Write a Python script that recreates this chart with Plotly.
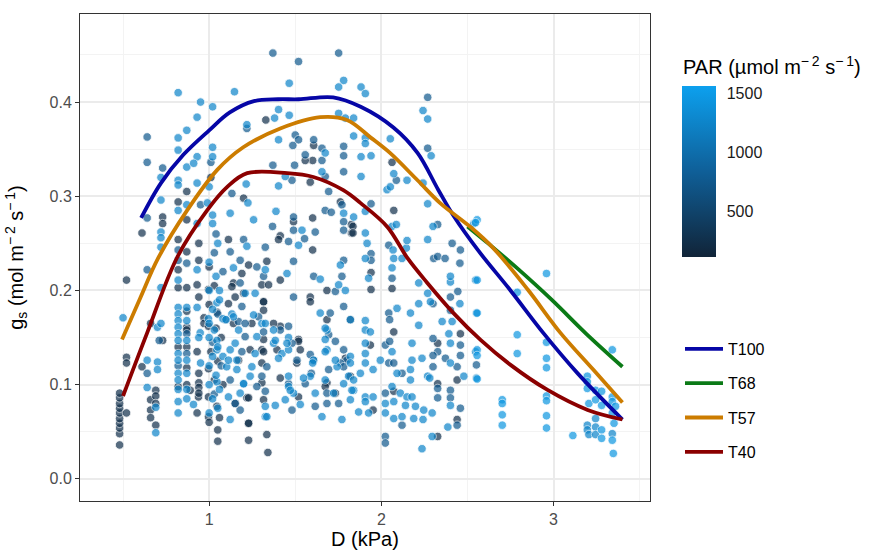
import plotly.graph_objects as go

# ---------------- data ----------------
# scatter points (D in kPa, gs in mol m-2 s-1), grouped by approximate PAR level
low_par_pts = [  # PAR ~ 250
    (0.48,0.036),(0.48,0.048),(0.48,0.054),(0.48,0.059),(0.48,0.064),(0.48,0.070),(0.48,0.075),(0.48,0.080),(0.48,0.086),(0.48,0.091),
    (0.52,0.211),(0.52,0.129),(0.52,0.123),(0.52,0.070),
    (0.61,0.261),(0.61,0.119),(0.66,0.084),(0.66,0.073),(0.66,0.065),(0.66,0.165),(0.69,0.094),(0.69,0.088),(0.69,0.080),(0.69,0.057),
    (0.73,0.147),(0.73,0.278),(0.73,0.271),
    (0.82,0.294),(0.82,0.254),(0.82,0.222),(0.82,0.203),(0.82,0.140),(0.82,0.098),(0.87,0.305),(0.87,0.275),(0.87,0.241),(0.87,0.203),
    (0.87,0.161),(0.87,0.140),(0.87,0.118),(0.87,0.100),(0.87,0.178),(0.87,0.158),(0.89,0.094),(0.938,0.087),
    (0.94,0.250),(0.94,0.232),(0.93,0.206),(0.94,0.193),(0.97,0.171),(0.97,0.165),(0.93,0.135),(0.94,0.112),(0.94,0.102),(0.94,0.097),
    (0.94,0.091),(0.93,0.070),(0.996,0.162),(0.996,0.201),(0.996,0.117),(0.996,0.066),(1.045,0.077),(1.045,0.177),(0.996,0.087),
    (1.01,0.320),(1.03,0.205),(1.00,0.185),(1.04,0.160),(1.01,0.135),(1.03,0.105),(1.00,0.060),(1.05,0.052),(1.05,0.040),(1.06,0.065),
    (1.07,0.150),(1.05,0.125),(1.08,0.100),(1.00,0.225),(1.141,0.165),(1.141,0.208),(1.200,0.197),(1.219,0.086),(1.229,0.059),
    (1.151,0.080),(1.316,0.188),(1.316,0.148),(1.306,0.137),(1.306,0.102),(1.394,0.137),(1.519,0.087),(1.519,0.148),(1.529,0.137),
    (1.509,0.123),(1.684,0.169),(1.684,0.102),
    (1.329,0.381),(1.607,0.354),(1.601,0.338),(1.558,0.338),(1.587,0.315),(1.200,0.298),(1.762,0.294),(1.413,0.258),(1.490,0.273),
    (1.601,0.277),(1.826,0.270),(1.826,0.261),(1.112,0.254),(1.229,0.227),(1.190,0.218),(1.132,0.204),(1.335,0.231),(1.403,0.254),
    (1.413,0.211),(1.601,0.243),(1.587,0.193),(1.587,0.188),(1.684,0.200),(1.306,0.206),(1.345,0.206),(1.316,0.188),(1.316,0.179),
    (1.248,0.165),(1.112,0.186),(1.229,0.086),(1.229,0.059),(1.229,0.041),(1.341,0.028),(1.335,0.047),(1.316,0.084),(1.413,0.107),
    (1.316,0.135),(1.306,0.123),(1.413,0.162),(1.374,0.165),(1.519,0.146),(1.674,0.098),(1.733,0.091),(1.791,0.128),(1.820,0.109),
    (1.151,0.193),(1.238,0.137),(1.171,0.126),
    (1.835,0.268),(1.835,0.261),(1.940,0.219),(1.940,0.201),(1.820,0.169),(1.936,0.142),(1.952,0.073),(2.062,0.336),(2.072,0.285),
    (2.062,0.202),(2.072,0.156),(2.072,0.093),(2.327,0.144),(2.327,0.101),(2.327,0.045),(2.459,0.154),(2.440,0.105),(2.440,0.063),
]
mid_par_pts = [  # PAR ~ 750
    (0.64,0.363),(0.64,0.336),(0.64,0.277),(0.64,0.222),(0.64,0.112),(0.73,0.330),(0.71,0.147),
    (0.82,0.243),(0.82,0.232),(0.87,0.229),(0.87,0.154),(0.87,0.133),(0.82,0.120),(0.95,0.291),
    (1.01,0.336),(1.04,0.260),(1.03,0.240),(1.05,0.175),(1.02,0.145),(1.07,0.120),(1.03,0.090),(1.08,0.220),
    (1.170,0.167),(1.413,0.158),(1.461,0.162),(1.606,0.126),(1.684,0.080),(1.781,0.183),(1.781,0.137),(1.800,0.126),
    (1.370,0.452),(1.519,0.443),(1.752,0.452),(1.219,0.372),(1.500,0.365),(1.519,0.360),(1.486,0.354),(1.607,0.360),(1.655,0.351),
    (1.781,0.353),(1.781,0.343),(1.558,0.344),(1.655,0.338),(1.370,0.333),(1.496,0.333),(1.781,0.326),(1.481,0.317),(1.674,0.321),
    (1.694,0.305),(1.132,0.303),(1.771,0.291),(1.368,0.268),(1.490,0.278),(1.490,0.264),(1.554,0.255),(1.616,0.262),(1.674,0.285),
    (1.709,0.283),(1.781,0.273),(1.781,0.264),(1.200,0.254),(1.122,0.241),(1.180,0.232),(1.180,0.208),(1.326,0.246),(1.316,0.215),
    (1.461,0.252),(1.490,0.231),(1.490,0.193),(1.607,0.215),(1.733,0.199),(1.781,0.232),(1.771,0.215),(1.209,0.165),(1.093,0.169),
    (1.190,0.135),(1.122,0.105),(1.180,0.073),(1.326,0.093),(1.306,0.109),(1.335,0.119),(1.316,0.156),(1.481,0.144),(1.510,0.126),
    (1.461,0.101),(1.558,0.101),(1.481,0.073),(1.587,0.132),(1.593,0.112),(1.616,0.077),(1.684,0.091),(1.694,0.116),(1.703,0.176),
    (1.694,0.153),(1.733,0.146),(1.762,0.123),(1.752,0.080),(1.781,0.119),(1.190,0.183),(1.209,0.151),(1.151,0.080),(1.277,0.098),
    (1.287,0.172),(1.277,0.225),
    (1.940,0.292),(1.940,0.239),(1.940,0.232),(2.087,0.317),(2.043,0.248),(2.062,0.213),(2.043,0.176),(2.048,0.169),(2.023,0.142),
    (2.048,0.146),(2.043,0.123),(2.072,0.123),(2.120,0.112),(2.023,0.091),(2.120,0.057),(2.023,0.045),(2.023,0.038),(2.269,0.405),
    (2.269,0.351),(2.327,0.270),(2.304,0.234),(2.327,0.236),(2.370,0.234),(2.300,0.186),(2.300,0.149),(2.327,0.135),(2.300,0.131),
    (2.300,0.119),(2.327,0.096),(2.327,0.086),(2.401,0.193),(2.444,0.199),(2.401,0.179),(2.459,0.142),(2.459,0.131),(2.372,0.128),
    (2.440,0.119),(2.401,0.094),(2.401,0.086),(2.459,0.075),(2.440,0.057),(2.411,0.250),(2.459,0.243),(2.456,0.229),(2.552,0.121),
]
high_par_pts = [  # PAR ~ 1250
    (0.50,0.171),
    (0.64,0.126),(0.64,0.097),(0.70,0.161),(0.70,0.124),(0.70,0.116),(0.69,0.049),(0.69,0.076),(0.72,0.320),(0.72,0.296),(0.72,0.262),
    (0.72,0.256),(0.72,0.246),(0.72,0.203),(0.72,0.165),
    (0.82,0.410),(0.82,0.362),(0.82,0.349),(0.82,0.317),(0.82,0.312),(0.82,0.285),(0.82,0.211),(0.82,0.182),(0.82,0.175),(0.82,0.168),
    (0.82,0.161),(0.82,0.154),(0.82,0.147),(0.82,0.133),(0.82,0.126),(0.82,0.112),(0.82,0.105),(0.82,0.095),(0.82,0.082),(0.82,0.070),
    (0.87,0.370),(0.87,0.331),(0.87,0.291),(0.87,0.182),(0.87,0.168),(0.87,0.147),(0.87,0.126),(0.87,0.112),(0.87,0.095),(0.87,0.085),
    (0.909,0.079),(0.948,0.155),(0.996,0.170),(1.045,0.187),(1.045,0.147),(1.045,0.137),(1.045,0.103),(1.122,0.137),(1.132,0.175),
    (1.161,0.126),(1.200,0.101),(1.180,0.091),(1.102,0.119),(1.258,0.174),(1.306,0.165),(1.326,0.066),(1.326,0.077),(1.374,0.158),
    (1.374,0.144),(1.423,0.133),(1.461,0.150),(1.461,0.137),(1.461,0.109),(1.461,0.098),(1.490,0.091),(1.587,0.109),(1.606,0.126),
    (1.645,0.176),(1.684,0.158),(1.684,0.137),(1.723,0.091),(1.743,0.119),(1.820,0.169),(1.839,0.094),(1.810,0.109),
    (0.95,0.400),(0.93,0.384),(0.93,0.342),(0.91,0.335),(0.93,0.314),(0.93,0.271),(0.93,0.222),(0.93,0.182),(0.94,0.150),(0.95,0.123),
    (1.02,0.395),(1.02,0.352),(1.02,0.342),(1.00,0.310),(0.99,0.293),(1.02,0.280),(1.02,0.271),(1.05,0.250),(1.00,0.230),(1.04,0.215),
    (1.00,0.200),(1.06,0.190),(1.02,0.180),(1.00,0.165),(1.03,0.158),(1.00,0.150),(1.05,0.140),(1.02,0.130),(1.00,0.120),(1.04,0.110),
    (1.00,0.100),(1.06,0.095),(1.02,0.085),(1.05,0.075),(1.00,0.070),(1.06,0.200),(1.08,0.170),(1.08,0.130),
    (1.147,0.411),(1.465,0.420),(1.781,0.423),(1.752,0.416),(1.752,0.388),(1.403,0.392),(1.465,0.386),(1.380,0.383),(1.219,0.376),
    (1.791,0.383),(1.403,0.360),(1.674,0.346),(1.442,0.321),(1.655,0.326),(1.215,0.313),(1.403,0.311),(1.225,0.293),(1.122,0.282),
    (1.258,0.275),(1.388,0.284),(1.539,0.264),(1.781,0.282),(1.219,0.247),(1.141,0.224),(1.209,0.197),(1.326,0.222),(1.519,0.248),
    (1.452,0.218),(1.645,0.212),(1.752,0.206),(1.762,0.227),(1.791,0.200),(1.171,0.158),(1.151,0.144),(1.112,0.126),(1.161,0.116),
    (1.200,0.101),(1.122,0.063),(1.335,0.066),(1.384,0.078),(1.403,0.128),(1.384,0.147),(1.326,0.165),(1.452,0.144),(1.548,0.107),
    (1.471,0.094),(1.529,0.079),(1.442,0.084),(1.601,0.123),(1.616,0.091),(1.655,0.066),(1.674,0.105),(1.674,0.135),(1.674,0.148),
    (1.674,0.160),(1.733,0.126),(1.781,0.101),(1.771,0.063),(1.829,0.094),(1.141,0.172),(1.098,0.169),(1.248,0.119),(1.112,0.087),
    (1.238,0.109),(1.267,0.133),(1.277,0.151),(1.267,0.197),
    (1.882,0.416),(1.907,0.409),(1.839,0.383),(1.839,0.364),(1.907,0.362),(1.907,0.356),(1.882,0.342),(1.940,0.343),(1.882,0.321),
    (1.907,0.284),(1.839,0.278),(1.907,0.261),(1.917,0.250),(1.907,0.234),(1.926,0.213),(1.907,0.168),(1.907,0.158),(1.936,0.156),
    (1.907,0.144),(1.907,0.133),(1.820,0.130),(1.820,0.123),(1.839,0.105),(1.907,0.123),(1.878,0.112),(1.952,0.116),(1.907,0.087),
    (1.907,0.082),(1.952,0.087),(1.926,0.070),(1.868,0.071),(1.820,0.084),(2.052,0.361),(2.072,0.324),(2.033,0.307),(2.052,0.310),
    (2.149,0.317),(2.062,0.268),(2.087,0.270),(2.068,0.243),(2.072,0.234),(2.062,0.224),(2.120,0.234),(2.145,0.245),(2.149,0.253),
    (2.091,0.181),(2.169,0.176),(2.062,0.135),(1.994,0.126),(2.091,0.112),(2.169,0.116),(2.178,0.144),(2.178,0.126),(2.169,0.105),
    (2.062,0.098),(2.110,0.091),(2.149,0.087),(2.178,0.087),(2.023,0.080),(2.072,0.082),(2.140,0.078),(2.198,0.077),(2.072,0.064),
    (2.023,0.070),(2.120,0.066),(2.188,0.064),(2.236,0.032),(2.242,0.391),(2.269,0.382),(2.289,0.343),(2.242,0.314),(2.269,0.292),
    (2.300,0.268),(2.269,0.254),(2.217,0.208),(2.269,0.197),(2.285,0.188),(2.217,0.186),(2.217,0.163),(2.236,0.128),(2.269,0.109),
    (2.281,0.107),(2.295,0.070),(2.295,0.045),(2.242,0.063),(2.246,0.073),(2.401,0.209),(2.456,0.186),(2.353,0.167),(2.411,0.167),
    (2.392,0.154),(2.401,0.144),(2.401,0.123),(2.401,0.078),(2.386,0.055),(2.479,0.109),(2.401,0.215),(2.537,0.271),(2.552,0.176),
    (2.547,0.135),(2.552,0.107),(2.547,0.211),
    (3.196,0.057),(3.196,0.052),(3.205,0.047),(3.244,0.064),(3.244,0.055),(3.244,0.047),(3.341,0.048),
]
top_par_pts = [  # PAR ~ 1450
    (2.556,0.275),(2.547,0.272),(2.556,0.211),(2.556,0.176),(2.556,0.137),(2.556,0.131),(2.556,0.106),(2.702,0.084),(2.702,0.080),
    (2.702,0.068),(2.702,0.057),(2.789,0.198),(2.789,0.153),(2.789,0.133),(2.959,0.218),(2.959,0.145),(2.959,0.128),(2.959,0.118),
    (2.959,0.088),(2.959,0.083),(2.959,0.067),(2.959,0.054),(3.112,0.046),(3.196,0.109),(3.196,0.103),(3.196,0.096),(3.205,0.080),
    (3.244,0.094),(3.244,0.084),(3.279,0.093),(3.279,0.078),(3.279,0.052),(3.279,0.043),(3.341,0.137),(3.341,0.087),(3.341,0.082),
    (3.341,0.070),(3.351,0.059),(3.341,0.041),(3.347,0.027),(3.360,0.077),
]
par_levels = [250, 750, 1250, 1450]

# smoothed curves per treatment
T100_D  = [0.605, 0.72, 0.85, 1.00, 1.12, 1.26, 1.40, 1.52, 1.72, 1.88, 2.07, 2.21, 2.33, 2.42, 2.56, 2.75, 2.94, 3.14, 3.40]
T100_gs = [0.277, 0.314, 0.344, 0.370, 0.389, 0.401, 0.403, 0.403, 0.405, 0.395, 0.373, 0.346, 0.307, 0.279, 0.243, 0.200, 0.155, 0.112, 0.063]
T68_D   = [2.50, 2.62, 2.78, 2.99, 3.19, 3.40]
T68_gs  = [0.268, 0.250, 0.225, 0.190, 0.154, 0.119]
T57_D   = [0.494, 0.60, 0.703, 0.872, 1.047, 1.198, 1.413, 1.645, 1.80, 1.94, 2.05, 2.21, 2.34, 2.52, 2.65, 2.85, 3.04, 3.23, 3.40]
T57_gs  = [0.148, 0.192, 0.234, 0.285, 0.328, 0.352, 0.372, 0.384, 0.381, 0.362, 0.346, 0.317, 0.293, 0.267, 0.245, 0.201, 0.155, 0.116, 0.081]
T40_D   = [0.50, 0.64, 0.814, 0.988, 1.105, 1.221, 1.453, 1.605, 1.779, 1.878, 2.035, 2.151, 2.267, 2.419, 2.576, 2.75, 2.965, 3.198, 3.40]
T40_gs  = [0.088, 0.155, 0.235, 0.285, 0.310, 0.3245, 0.3245, 0.3205, 0.3065, 0.293, 0.2675, 0.2345, 0.208, 0.176, 0.1475, 0.121, 0.0944, 0.0732, 0.063]

treatments = ["T100", "T68", "T57", "T40"]
line_colors = ["#0606A6", "#0B7A16", "#CC7C00", "#8B0000"]

x_ticks = [1, 2, 3]
y_ticks = [0.0, 0.1, 0.2, 0.3, 0.4]
y_ticktext = ["0.0", "0.1", "0.2", "0.3", "0.4"]
cbar_ticks = [500, 1000, 1500]
par_min, par_max = 110, 1560

# ---------------- build figure ----------------
groups = [low_par_pts, mid_par_pts, high_par_pts, top_par_pts]
D_all, gs_all, par_all = [], [], []
for pts, par in zip(groups, par_levels):
    for d, g in pts:
        D_all.append(d)
        gs_all.append(g)
        par_all.append(par)

FONT = "Liberation Sans, Arial, Helvetica, sans-serif"
TS = "\u2009"  # thin space (plotmath-like spacing)
unit_txt = "m<sup>−" + TS + "2</sup> s<sup>−" + TS + "1</sup>"

fig = go.Figure()
fig.add_trace(go.Scatter(
    x=D_all, y=gs_all, mode="markers", showlegend=False, hoverinfo="skip",
    marker=dict(size=8.5, color=par_all, coloraxis="coloraxis", opacity=0.7,
                line=dict(color="white", width=0.8)),
))

line_data = [(T100_D, T100_gs), (T68_D, T68_gs), (T57_D, T57_gs), (T40_D, T40_gs)]
for name, col, (xs, ys) in zip(treatments, line_colors, line_data):
    fig.add_trace(go.Scatter(
        x=xs, y=ys, mode="lines", name=name, legendgroup=name,
        line=dict(color=col, width=3.8, shape="spline", smoothing=1.0),
    ))

axis_common = dict(
    showline=True, mirror=True, linecolor="#333333", linewidth=1,
    ticks="outside", ticklen=4, tickcolor="#333333", tickwidth=1,
    tickfont=dict(size=16, color="#4D4D4D", family=FONT),
    showgrid=True, gridcolor="#EBEBEB", gridwidth=1.6, zeroline=False, automargin=False,
)

# colorbar geometry (paper coords; plot area is 570 x 487 px)
cb_x0 = (682 - 80) / 570
cb_x1 = (716 - 80) / 570
cb_top = (501 - 86) / 487
cb_len_px = 171
cb_len = cb_len_px / 487

# white tick marks inside the colourbar, at the tick values
shapes = []
for v in cbar_ticks:
    yy = cb_top - (par_max - v) / (par_max - par_min) * cb_len
    for xa, xb in [(cb_x0, cb_x0 + 6 / 570), (cb_x1 - 6 / 570, cb_x1)]:
        shapes.append(dict(type="line", xref="paper", yref="paper", x0=xa, x1=xb, y0=yy, y1=yy,
                           line=dict(color="rgba(255,255,255,0.8)", width=1)))

fig.update_layout(
    width=875, height=551,
    margin=dict(l=80, r=225, t=14, b=50),
    paper_bgcolor="white", plot_bgcolor="white",
    font=dict(family=FONT, color="black"),
    xaxis=dict(axis_common, range=[0.25, 3.56], tickvals=x_ticks,
               minor=dict(tickvals=[0.5, 1.5, 2.5, 3.5], showgrid=True, gridcolor="#F3F3F3", gridwidth=0.8, ticks=""),
               title=dict(text="D (kPa)", font=dict(size=20, family=FONT), standoff=2)),
    yaxis=dict(axis_common, range=[-0.0235, 0.4935], tickvals=y_ticks, ticktext=y_ticktext,
               minor=dict(tickvals=[0.05, 0.15, 0.25, 0.35, 0.45], showgrid=True, gridcolor="#F3F3F3", gridwidth=0.8, ticks=""),
               title=dict(text="g<sub>s</sub> (mol " + unit_txt + ")",
                          font=dict(size=20, family=FONT), standoff=20)),
    coloraxis=dict(
        cmin=par_min, cmax=par_max,
        colorscale=[[0, "#112438"], [0.5, "#0F5F98"], [1, "#0CA0EE"]],
        colorbar=dict(
            x=cb_x0, xanchor="left", xpad=0,
            y=cb_top, yanchor="top", ypad=0,
            len=cb_len_px, lenmode="pixels", thickness=34, thicknessmode="pixels",
            outlinewidth=0, tickvals=cbar_ticks, ticks="outside", ticklen=8, tickcolor="rgba(0,0,0,0)",
            tickfont=dict(size=16, color="#1A1A1A", family=FONT), title=dict(text=""),
        ),
    ),
    legend=dict(x=(680 - 80) / 570, xanchor="left", y=(501 - 332) / 487, yanchor="top",
                font=dict(size=16, family=FONT), tracegroupgap=10.5, itemwidth=38, bgcolor="rgba(0,0,0,0)"),
    shapes=shapes,
    annotations=[dict(text="PAR (µmol " + unit_txt + ")", xref="paper", yref="paper",
                      x=(681 - 80) / 570, y=(501 - 65) / 487, xanchor="left", yanchor="middle",
                      showarrow=False, font=dict(size=20, family=FONT, color="black"))],
)

fig.write_html("out.html")
